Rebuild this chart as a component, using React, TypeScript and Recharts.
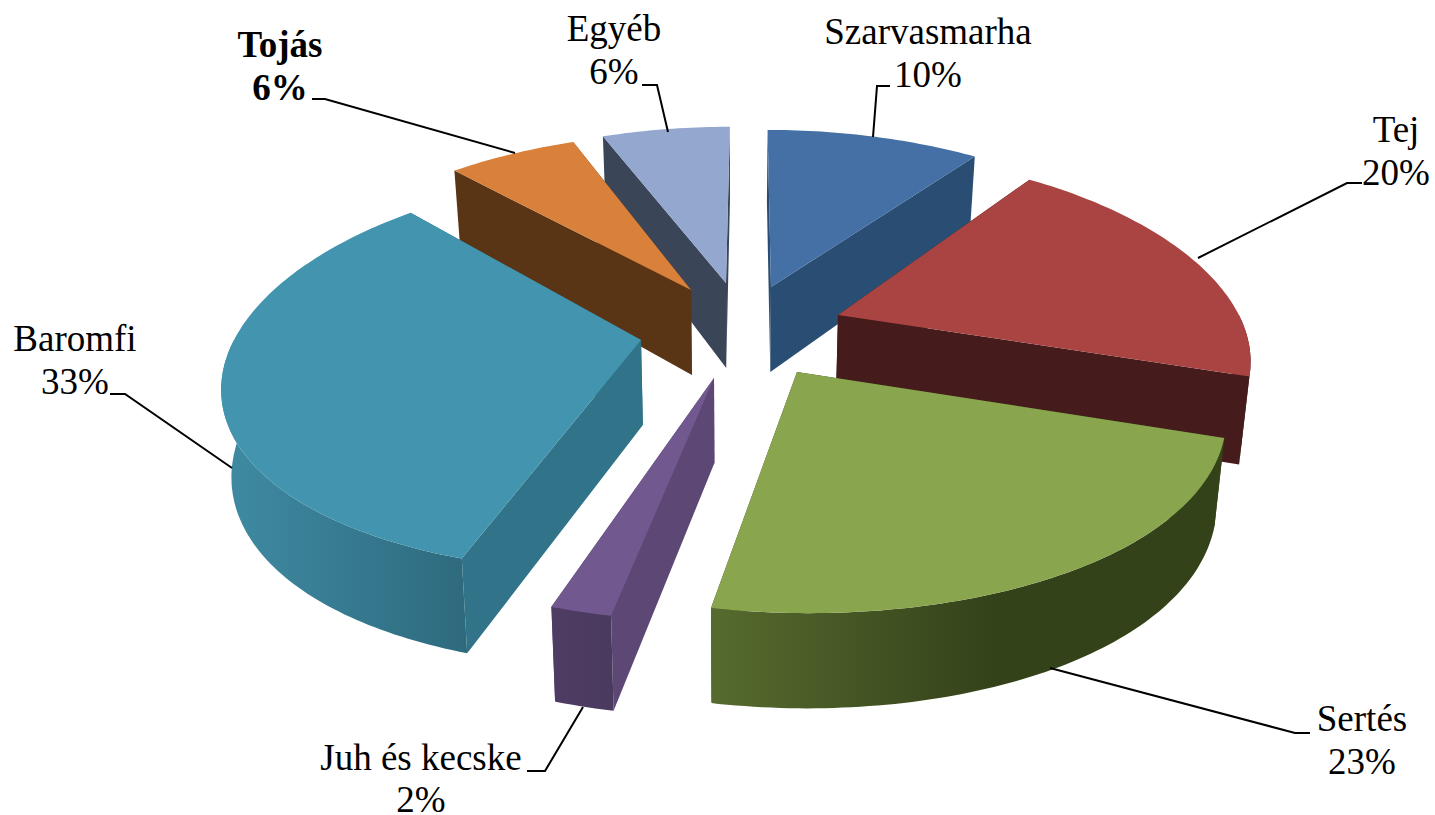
import { Pie, PieChart } from "recharts";

// values in %, clockwise from 12 o'clock
const names = ["Szarvasmarha", "Tej", "Sertés", "Juh és kecske", "Baromfi", "Tojás", "Egyéb"];
const shares = [10, 20, 23, 2, 33, 6, 6];

const topColors = ["#4470A5", "#A94442", "#89A54E", "#71588F", "#4394AE", "#D9803A", "#93A7CF"];
const faceColors = ["#2A4D73", "#451B1B", "#34421A", "#5C4775", "#317389", "#5A3515", "#3A4558"];
const wallFrom = ["#2A4D73", "#451B1B", "#566B2E", "#4F3C64", "#3F8BA3", "#5A3515", "#3A4558"];
const wallTo = ["#2A4D73", "#451B1B", "#34421A", "#4A3A5E", "#2E6A7E", "#5A3515", "#3A4558"];

// how far each slice is pulled away from the pie centre, on screen
const explodeX = [36, 103, 62, -21, -94, -44, -9];
const explodeY = [-38, -10, 47, 53, 15, -35, -42];
const widthScale = [1, 0.985, 1.03, 1, 1, 1, 1];

// back to front, so nearer slices cover the walls behind them
const drawOrder = [0, 6, 5, 1, 4, 3, 2];

const data = names.map((name, i) => ({ name, value: shares[i] }));

const labelX = [928, 1396, 1362, 421, 75, 280, 614];
const labelY = [44, 142, 731, 770, 351, 57, 41];
const leaders = [
  "873,137 877,86 890,86",
  "1198,258 1347,183 1362,183",
  "1050,668 1295,733 1310,733",
  "583,707 545,771 527,771",
  "232,468 125,394 110,394",
  "515,153 325,99 312,99",
  "668,132 657,85 642,85",
];

const TILT = 0.47;
const PERSPECTIVE_X = 0.195;
const PERSPECTIVE_Y = 0.16;
const DEPTH = 85;
const VANISH_X = 750;
const HORIZON_Y = 325;
const CONVERGE = 0.98;
const BOTTOM_X = 735;

const RAD = Math.PI / 180;

function slice3D(props: any, index: number) {
  const { cx, cy, outerRadius, startAngle, endAngle } = props;
  const ax = cx + explodeX[index];
  const ay = cy + explodeY[index];

  const top = (deg: number) => {
    const y = -Math.sin(deg * RAD);
    const wx = 1 / (1 - PERSPECTIVE_X * y);
    const wy = 1 / (1 - PERSPECTIVE_Y * y);
    return [
      ax + outerRadius * widthScale[index] * Math.cos(deg * RAD) * wx + (ax - VANISH_X) * (wx - 1),
      ay + outerRadius * TILT * y * wy + (ay - HORIZON_Y) * (wy - 1) * 1.5,
    ];
  };
  const bottom = (deg: number) => {
    const y = -Math.sin(deg * RAD);
    const [x, yy] = top(deg);
    return [BOTTOM_X + (x - BOTTOM_X) * CONVERGE, yy + DEPTH * (1 + (y > 0 ? 0.12 : 0.16) * y)];
  };
  const apexBottom = [BOTTOM_X + (ax - BOTTOM_X) * CONVERGE, ay + DEPTH];
  const pt = (p: number[]) => `${p[0].toFixed(1)} ${p[1].toFixed(1)}`;

  const lo = Math.min(startAngle, endAngle);
  const hi = Math.max(startAngle, endAngle);
  const sweep: number[] = [];
  for (let a = hi; a > lo; a -= 1) sweep.push(a);
  sweep.push(lo);

  const topPath = `M${ax} ${ay}L` + sweep.map((a) => pt(top(a))).join("L") + "Z";

  // radial faces; the one turned to the viewer goes last
  const face = (deg: number) =>
    `M${ax} ${ay}L${pt(top(deg))}L${pt(bottom(deg))}L${pt(apexBottom)}Z`;
  const mid = (startAngle + endAngle) / 2;
  const rightSide = Math.cos(mid * RAD) > 0;
  const faces = rightSide ? [hi, lo] : [lo, hi];

  // outer wall, front half only
  const front = sweep.filter((a) => Math.sin(a * RAD) <= 0);
  const wall =
    front.length > 1
      ? "M" +
        front.map((a) => pt(top(a))).join("L") +
        "L" +
        [...front].reverse().map((a) => pt(bottom(a))).join("L") +
        "Z"
      : null;

  const gradId = `wall${index}`;
  return (
    <g>
      <defs>
        <linearGradient id={gradId} x1="0" y1="0" x2="1" y2="0">
          <stop offset="0%" stopColor={wallFrom[index]} />
          <stop offset={index === 2 ? "55%" : "100%"} stopColor={wallTo[index]} />
        </linearGradient>
      </defs>
      {faces.map((deg) => (
        <path key={deg} d={face(deg)} fill={faceColors[index]} />
      ))}
      {wall && <path d={wall} fill={`url(#${gradId})`} />}
      <path d={topPath} fill={topColors[index]} />
    </g>
  );
}

function renderLabel(props: any) {
  const i = props.index;
  const x = labelX[i];
  const y = labelY[i];
  return (
    <g key={i}>
      <polyline points={leaders[i]} fill="none" stroke="#000" strokeWidth={2} />
      <text
        x={x}
        y={y}
        textAnchor="middle"
        fontFamily="'Liberation Serif', serif"
        fontSize={37}
        fontWeight={i === 5 ? "bold" : "normal"}
        fill="#000"
      >
        <tspan x={x}>{names[i]}</tspan>
        <tspan x={x} dy={i === 3 ? 42 : 43}>{`${shares[i]}%`}</tspan>
      </text>
    </g>
  );
}

export default function App() {
  return (
    <div style={{ position: "absolute", left: 0, top: 0, width: 1435, height: 815, background: "#fff" }}>
      <PieChart width={1435} height={815} margin={{ top: 0, right: 0, bottom: 0, left: 0 }}>
        {drawOrder.map((layer, n) => {
          const shape = (props: any) => (props.index === layer ? slice3D(props, layer) : <g />);
          return (
            <Pie
              key={layer}
              data={data}
              dataKey="value"
              nameKey="name"
              cx={735}
              cy={325}
              innerRadius={0}
              outerRadius={407}
              startAngle={90}
              endAngle={-270}
              stroke="none"
              isAnimationActive={false}
              shape={shape}
              inactiveShape={shape}
              label={n === drawOrder.length - 1 ? renderLabel : false}
              labelLine={false}
            />
          );
        })}
      </PieChart>
    </div>
  );
}
